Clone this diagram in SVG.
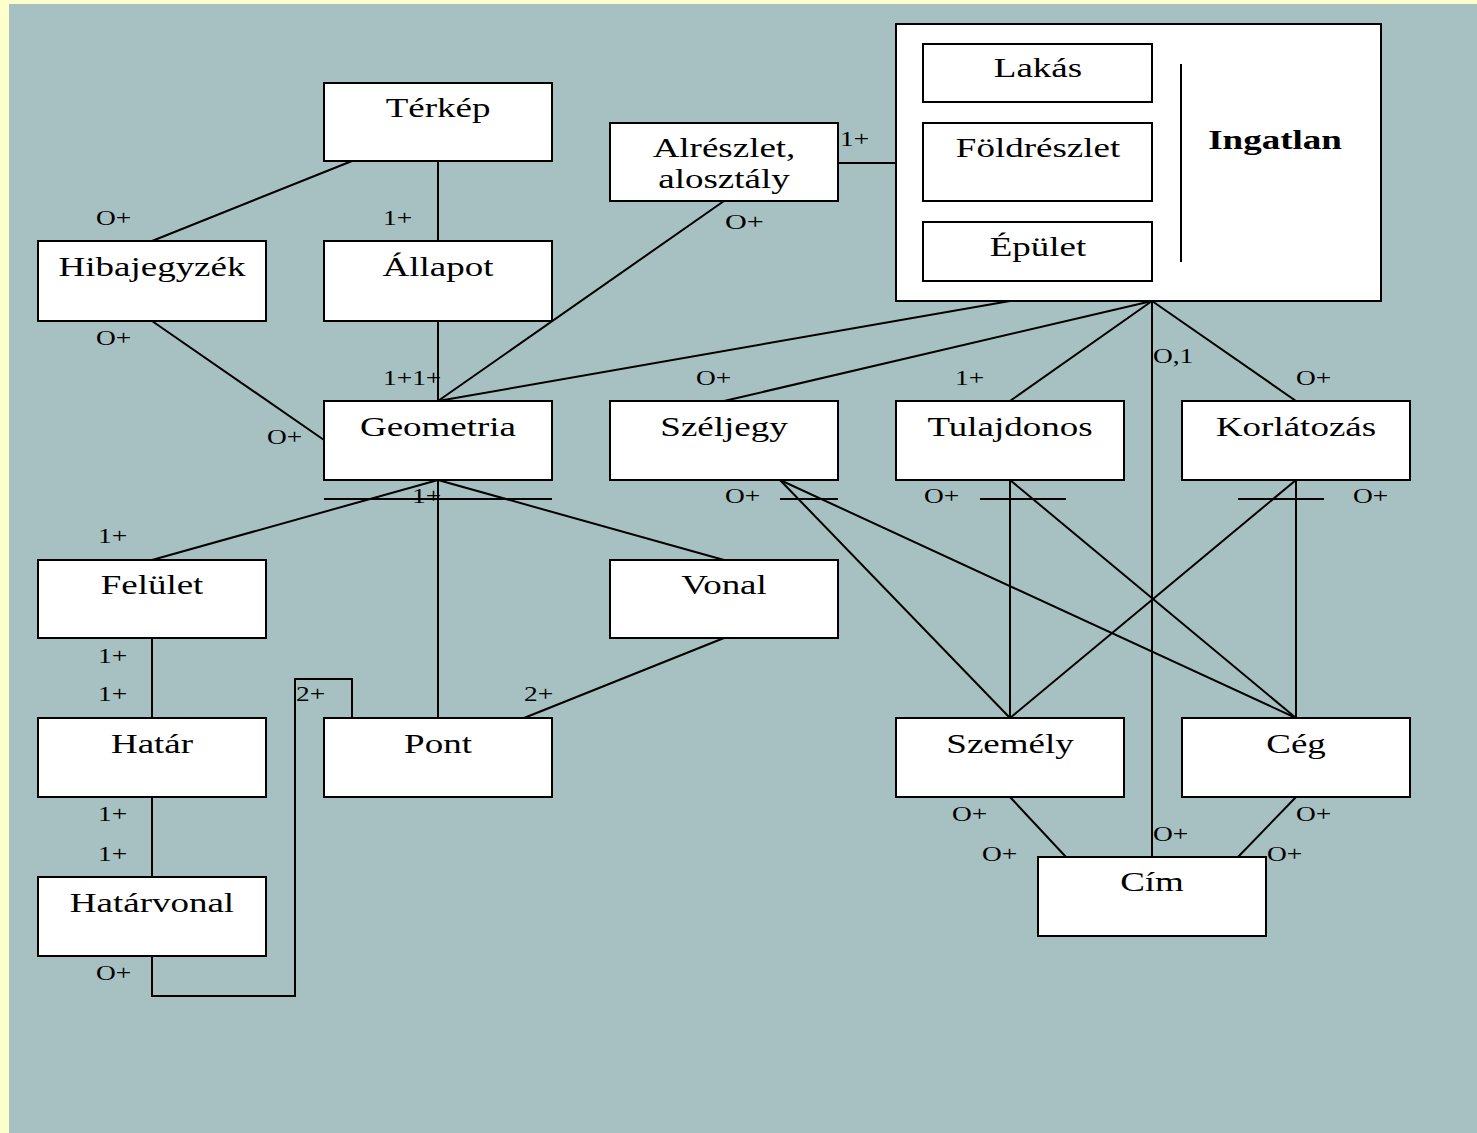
<svg xmlns="http://www.w3.org/2000/svg" width="1477" height="1133" viewBox="0 0 1477 1133">
<style>
.box{fill:#ffffff;stroke:#000;stroke-width:2}
.ln{fill:none;stroke:#000;stroke-width:2}
.t{font-family:"Liberation Serif","Times New Roman",serif;font-size:27px;fill:#000;text-anchor:middle}
.b{font-weight:bold}
.l{font-family:"Liberation Serif","Times New Roman",serif;font-size:20px;fill:#000}
</style>
<rect x="0" y="0" width="1477" height="1133" fill="#ffffcc"/>
<rect x="9" y="4" width="1468" height="1129" fill="#a7c0c1"/>

<g id="connectors">
<line class="ln" x1="352" y1="161" x2="152" y2="241"/>
<line class="ln" x1="438" y1="161" x2="438" y2="241"/>
<line class="ln" x1="152" y1="321" x2="324" y2="440"/>
<line class="ln" x1="438" y1="321" x2="438" y2="401"/>
<line class="ln" x1="724" y1="201" x2="438" y2="401"/>
<line class="ln" x1="838" y1="163" x2="923" y2="163"/>
<line class="ln" x1="1010" y1="301" x2="438" y2="401"/>
<line class="ln" x1="1152" y1="301" x2="724" y2="401"/>
<line class="ln" x1="1152" y1="301" x2="1010" y2="401"/>
<line class="ln" x1="1152" y1="301" x2="1296" y2="401"/>
<line class="ln" x1="1152" y1="301" x2="1152" y2="857"/>
<line class="ln" x1="438" y1="480" x2="152" y2="560"/>
<line class="ln" x1="438" y1="480" x2="438" y2="718"/>
<line class="ln" x1="438" y1="480" x2="724" y2="560"/>
<line class="ln" x1="324" y1="499" x2="552" y2="499"/>
<line class="ln" x1="724" y1="638" x2="524" y2="718"/>
<polyline class="ln" points="352,718 352,679 295,679 295,996 152,996 152,956"/>
<line class="ln" x1="152" y1="638" x2="152" y2="718"/>
<line class="ln" x1="152" y1="797" x2="152" y2="877"/>
<line class="ln" x1="780" y1="480" x2="1010" y2="718"/>
<line class="ln" x1="780" y1="480" x2="1296" y2="718"/>
<line class="ln" x1="780" y1="499" x2="838" y2="499"/>
<line class="ln" x1="1010" y1="480" x2="1010" y2="718"/>
<line class="ln" x1="1010" y1="480" x2="1296" y2="718"/>
<line class="ln" x1="980" y1="499" x2="1066" y2="499"/>
<line class="ln" x1="1296" y1="480" x2="1010" y2="718"/>
<line class="ln" x1="1296" y1="480" x2="1296" y2="718"/>
<line class="ln" x1="1238" y1="499" x2="1324" y2="499"/>
<line class="ln" x1="1010" y1="797" x2="1066" y2="857"/>
<line class="ln" x1="1296" y1="797" x2="1238" y2="857"/>
</g>

<g id="ingatlan">
<rect class="box" x="896" y="24" width="485" height="277"/>
<line class="ln" x1="1181" y1="64" x2="1181" y2="262"/>
<text class="t b" transform="translate(1275,149) scale(1.37,1)">Ingatlan</text>
</g>
<g id="lakas"><rect class="box" x="923" y="44" width="229" height="58"/><text class="t" transform="translate(1038,77) scale(1.37,1)">Lakás</text></g>
<g id="foldreszlet"><rect class="box" x="923" y="123" width="229" height="78"/><text class="t" transform="translate(1038,157) scale(1.37,1)">Földrészlet</text></g>
<g id="epulet"><rect class="box" x="923" y="222" width="229" height="59"/><text class="t" transform="translate(1038,256) scale(1.37,1)">Épület</text></g>

<g id="terkep"><rect class="box" x="324" y="83" width="228" height="78"/><text class="t" transform="translate(438,117) scale(1.37,1)">Térkép</text></g>
<g id="alreszlet"><rect class="box" x="610" y="123" width="228" height="78"/><text class="t" transform="translate(724,157) scale(1.37,1)">Alrészlet,</text><text class="t" transform="translate(724,188) scale(1.37,1)">alosztály</text></g>
<g id="hibajegyzek"><rect class="box" x="38" y="241" width="228" height="80"/><text class="t" transform="translate(152,276) scale(1.37,1)">Hibajegyzék</text></g>
<g id="allapot"><rect class="box" x="324" y="241" width="228" height="80"/><text class="t" transform="translate(438,276) scale(1.37,1)">Állapot</text></g>
<g id="geometria"><rect class="box" x="324" y="401" width="228" height="79"/><text class="t" transform="translate(438,436) scale(1.37,1)">Geometria</text></g>
<g id="szeljegy"><rect class="box" x="610" y="401" width="228" height="79"/><text class="t" transform="translate(724,436) scale(1.37,1)">Széljegy</text></g>
<g id="tulajdonos"><rect class="box" x="896" y="401" width="228" height="79"/><text class="t" transform="translate(1010,436) scale(1.37,1)">Tulajdonos</text></g>
<g id="korlatozas"><rect class="box" x="1182" y="401" width="228" height="79"/><text class="t" transform="translate(1296,436) scale(1.37,1)">Korlátozás</text></g>
<g id="felulet"><rect class="box" x="38" y="560" width="228" height="78"/><text class="t" transform="translate(152,594) scale(1.37,1)">Felület</text></g>
<g id="vonal"><rect class="box" x="610" y="560" width="228" height="78"/><text class="t" transform="translate(724,594) scale(1.37,1)">Vonal</text></g>
<g id="hatar"><rect class="box" x="38" y="718" width="228" height="79"/><text class="t" transform="translate(152,753) scale(1.37,1)">Határ</text></g>
<g id="pont"><rect class="box" x="324" y="718" width="228" height="79"/><text class="t" transform="translate(438,753) scale(1.37,1)">Pont</text></g>
<g id="szemely"><rect class="box" x="896" y="718" width="228" height="79"/><text class="t" transform="translate(1010,753) scale(1.37,1)">Személy</text></g>
<g id="ceg"><rect class="box" x="1182" y="718" width="228" height="79"/><text class="t" transform="translate(1296,753) scale(1.37,1)">Cég</text></g>
<g id="hatarvonal"><rect class="box" x="38" y="877" width="228" height="79"/><text class="t" transform="translate(152,912) scale(1.37,1)">Határvonal</text></g>
<g id="cim"><rect class="box" x="1038" y="857" width="228" height="79"/><text class="t" transform="translate(1152,891) scale(1.37,1)">Cím</text></g>

<g id="labels">
<text class="l" transform="translate(96,225) scale(1.37,1)">O+</text>
<text class="l" transform="translate(383,225) scale(1.37,1)">1+</text>
<text class="l" transform="translate(840,146) scale(1.37,1)">1+</text>
<text class="l" style="font-size:22px" transform="translate(725,229) scale(1.37,1)">O+</text>
<text class="l" transform="translate(96,345) scale(1.37,1)">O+</text>
<text class="l" transform="translate(383,385) scale(1.37,1)">1+1+</text>
<text class="l" transform="translate(696,385) scale(1.37,1)">O+</text>
<text class="l" transform="translate(955,385) scale(1.37,1)">1+</text>
<text class="l" transform="translate(1153,363) scale(1.37,1)">O,1</text>
<text class="l" transform="translate(1296,385) scale(1.37,1)">O+</text>
<text class="l" transform="translate(267,444) scale(1.37,1)">O+</text>
<text class="l" transform="translate(412,503) scale(1.37,1)">1+</text>
<text class="l" transform="translate(725,503) scale(1.37,1)">O+</text>
<text class="l" transform="translate(924,503) scale(1.37,1)">O+</text>
<text class="l" transform="translate(1353,503) scale(1.37,1)">O+</text>
<text class="l" transform="translate(98,543) scale(1.37,1)">1+</text>
<text class="l" transform="translate(98,663) scale(1.37,1)">1+</text>
<text class="l" transform="translate(98,701) scale(1.37,1)">1+</text>
<text class="l" transform="translate(296,701) scale(1.37,1)">2+</text>
<text class="l" transform="translate(524,701) scale(1.37,1)">2+</text>
<text class="l" transform="translate(98,821) scale(1.37,1)">1+</text>
<text class="l" transform="translate(98,861) scale(1.37,1)">1+</text>
<text class="l" transform="translate(96,980) scale(1.37,1)">O+</text>
<text class="l" transform="translate(952,821) scale(1.37,1)">O+</text>
<text class="l" transform="translate(982,861) scale(1.37,1)">O+</text>
<text class="l" transform="translate(1153,841) scale(1.37,1)">O+</text>
<text class="l" transform="translate(1296,821) scale(1.37,1)">O+</text>
<text class="l" transform="translate(1267,861) scale(1.37,1)">O+</text>
</g>
</svg>
